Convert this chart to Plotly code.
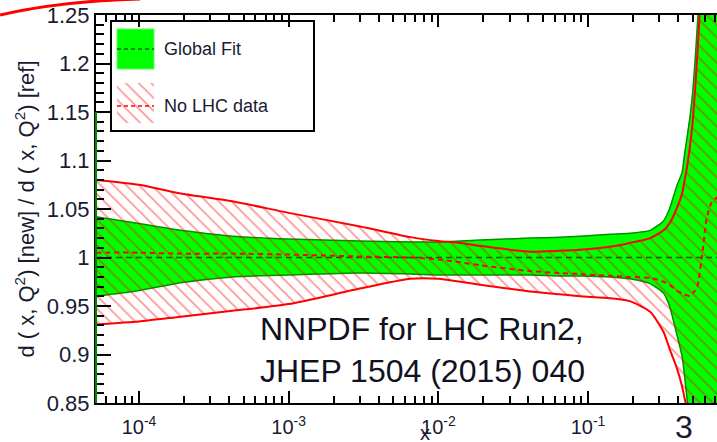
import math
import plotly.graph_objects as go

# ---------------- data ----------------
x_vals = [5.16e-5, 1.0e-4, 1.9e-4, 4.2e-4, 1.0e-3, 3.0e-3, 6.5e-3, 1.0e-2, 1.4e-2, 1.9e-2,
          4.1e-2, 6.5e-2, 8.8e-2, 0.14, 0.19, 0.26, 0.32, 0.35, 0.39, 0.425,
          0.44, 0.46, 0.48, 0.50, 0.52, 0.54, 0.58, 0.62, 0.67, 0.73]

global_hi = [1.042, 1.035, 1.028, 1.022, 1.019, 1.017, 1.016, 1.016, 1.017, 1.018,
             1.020, 1.021, 1.022, 1.024, 1.025, 1.028, 1.038, 1.050, 1.073, 1.088,
             1.105, 1.125, 1.145, 1.170, 1.205, 1.245, 1.330, 1.420, 1.500, 1.550]
global_lo = [0.960, 0.966, 0.974, 0.980, 0.982, 0.984, 0.983, 0.982, 0.982, 0.982,
             0.982, 0.981, 0.981, 0.980, 0.978, 0.973, 0.963, 0.950, 0.922, 0.898,
             0.880, 0.852, 0.820, 0.790, 0.760, 0.730, 0.670, 0.620, 0.570, 0.520]
global_mid = [1.0, 1.0, 1.0, 1.0, 1.0, 1.0, 1.0, 1.0, 1.0, 1.0,
              1.0, 1.0, 1.0, 1.0, 1.0, 1.0, 1.0, 1.0, 1.0, 1.0,
              1.0, 1.0, 1.0, 1.0, 1.0, 1.0, 1.0, 1.0, 1.0, 1.0]

nolhc_hi = [1.080, 1.075, 1.066, 1.058, 1.046, 1.032, 1.021, 1.017, 1.015, 1.012,
            1.006, 1.007, 1.008, 1.011, 1.015, 1.020, 1.028, 1.035, 1.050, 1.066,
            1.078, 1.095, 1.115, 1.140, 1.175, 1.215, 1.300, 1.400, 1.480, 1.550]
nolhc_lo = [0.931, 0.934, 0.939, 0.945, 0.952, 0.968, 0.978, 0.978, 0.975, 0.972,
            0.965, 0.962, 0.960, 0.958, 0.955, 0.944, 0.923, 0.906, 0.887, 0.867,
            0.856, 0.842, 0.820, 0.800, 0.770, 0.740, 0.680, 0.620, 0.570, 0.520]
nolhc_mid = [1.005, 1.005, 1.004, 1.004, 1.003, 1.001, 1.000, 0.998, 0.995, 0.992,
             0.986, 0.984, 0.983, 0.981, 0.980, 0.979, 0.975, 0.972, 0.966, 0.963,
             0.962, 0.961, 0.960, 0.963, 0.966, 0.972, 1.004, 1.040, 1.057, 1.062]

x_ticks = [1e-4, 1e-3, 1e-2, 1e-1]
x_ticktext = ["10<sup>-4</sup>", "10<sup>-3</sup>", "10<sup>-2</sup>", "10<sup>-1</sup>"]
y_ticks = [0.85, 0.9, 0.95, 1.0, 1.05, 1.1, 1.15, 1.2, 1.25]
y_ticktext = ["0.85", "0.9", "0.95", "1", "1.05", "1.1", "1.15", "1.2", "1.25"]
x_minor = [k * 10.0 ** n for n in range(-5, 0) for k in range(2, 10)]

legend_labels = ["Global Fit", "No LHC data"]
title_text = "NNPDF for LHC Run2,<br>JHEP 1504 (2015) 040"

# ---------------- styles ----------------
FONT = "Liberation Sans"
TXT = "#1a1a33"
GREEN = "#00ff00"
DKGREEN = "#009000"
RED = "#ff0000"
HATCH = dict(shape="\\", fgcolor="rgba(255,0,0,0.85)", bgcolor="rgba(0,0,0,0)",
             size=9, solidity=0.18)

fig = go.Figure()

# Global fit band
fig.add_trace(go.Scatter(x=x_vals + x_vals[::-1], y=global_hi + global_lo[::-1],
                         fill="toself", fillcolor=GREEN, line=dict(width=0),
                         mode="lines", hoverinfo="skip"))
fig.add_trace(go.Scatter(x=x_vals, y=global_hi, mode="lines",
                         line=dict(color=DKGREEN, width=1.5, shape="spline", smoothing=0.6)))
fig.add_trace(go.Scatter(x=x_vals, y=global_lo, mode="lines",
                         line=dict(color=DKGREEN, width=1.5, shape="spline", smoothing=0.6)))
fig.add_trace(go.Scatter(x=x_vals, y=global_mid, mode="lines",
                         line=dict(color="#006600", width=1.5, dash="6px,4px")))

# No-LHC band (hatched)
fig.add_trace(go.Scatter(x=x_vals + x_vals[::-1], y=nolhc_hi + nolhc_lo[::-1],
                         fill="toself", fillcolor="rgba(0,0,0,0)", fillpattern=HATCH,
                         line=dict(width=0), mode="lines", hoverinfo="skip"))
fig.add_trace(go.Scatter(x=x_vals, y=nolhc_hi, mode="lines",
                         line=dict(color=RED, width=2, shape="spline", smoothing=0.6)))
fig.add_trace(go.Scatter(x=x_vals, y=nolhc_lo, mode="lines",
                         line=dict(color=RED, width=2, shape="spline", smoothing=0.6)))
fig.add_trace(go.Scatter(x=x_vals, y=nolhc_mid, mode="lines",
                         line=dict(color=RED, width=2, dash="5px,4px", shape="spline", smoothing=0.6)))

# legend swatch (hatched) on an overlay pixel-like axis
fig.add_trace(go.Scatter(x=[117, 154, 154, 117, 117], y=[83, 83, 123, 123, 83],
                         xaxis="x2", yaxis="y2", fill="toself", fillcolor="rgba(0,0,0,0)",
                         fillpattern=HATCH, line=dict(width=0), mode="lines", hoverinfo="skip"))

shapes = [
    dict(type="rect", xref="x2", yref="y2", x0=111, x1=314, y0=21, y1=131,
         line=dict(color="black", width=2), fillcolor="rgba(0,0,0,0)"),
    dict(type="rect", xref="x2", yref="y2", x0=117, x1=154, y0=29, y1=69,
         line=dict(color="#60ff60", width=1), fillcolor=GREEN),
    dict(type="line", xref="x2", yref="y2", x0=117, x1=154, y0=49, y1=49,
         line=dict(color="#006600", width=1.5, dash="4px,3px")),
    dict(type="line", xref="x2", yref="y2", x0=117, x1=154, y0=106, y1=106,
         line=dict(color=RED, width=1.5, dash="4px,3px")),
    # green edge on left frame
    dict(type="line", xref="paper", yref="paper", x0=0, x1=0, y0=0, y1=0.75,
         line=dict(color="#008800", width=2)),
    # red stroke at top-left (slide decoration)
    dict(type="path", xref="paper", yref="paper",
         path="M -0.1546,1.0 Q -0.058,1.036 0.0709,1.0412",
         line=dict(color=RED, width=3)),
]

annotations = [
    dict(xref="x2", yref="y2", x=162, y=49, text=legend_labels[0], showarrow=False,
         xanchor="left", yanchor="middle", font=dict(family=FONT, size=18, color=TXT)),
    dict(xref="x2", yref="y2", x=162, y=106, text=legend_labels[1], showarrow=False,
         xanchor="left", yanchor="middle", font=dict(family=FONT, size=18, color=TXT)),
    dict(xref="paper", yref="paper", x=0.261, y=0.137, text=title_text, showarrow=False,
         xanchor="left", yanchor="middle", align="left",
         font=dict(family=FONT, size=32, color="#111122")),
    dict(xref="paper", yref="paper", x=0.53, y=-0.077, text="x", showarrow=False,
         xanchor="center", yanchor="middle", font=dict(family=FONT, size=20, color=TXT)),
    dict(xref="paper", yref="paper", x=0.947, y=-0.062, text="3", showarrow=False,
         xanchor="center", yanchor="middle", font=dict(family=FONT, size=32, color=TXT)),
]

fig.update_layout(
    width=717, height=442,
    margin=dict(l=96, r=0, t=15, b=39, pad=0, autoexpand=False),
    paper_bgcolor="white", plot_bgcolor="white",
    showlegend=False,
    shapes=shapes, annotations=annotations,
    xaxis=dict(type="log", range=[math.log10(5.16e-5), math.log10(0.727)], automargin=False,
               tickmode="array", tickvals=x_ticks, ticktext=x_ticktext,
               ticks="inside", ticklen=12, tickwidth=1.5, tickcolor="black",
               showline=True, linecolor="black", linewidth=2, mirror="ticks",
               showgrid=False, zeroline=False, ticklabeloverflow="allow",
               ticklabelstandoff=5,
               tickfont=dict(family=FONT, size=20, color=TXT),
               minor=dict(tickmode="array", tickvals=x_minor, ticks="inside", ticklen=7,
                          tickwidth=1.5, tickcolor="black", showgrid=False)),
    yaxis=dict(range=[0.85, 1.25], tickmode="array", tickvals=y_ticks, ticktext=y_ticktext,
               automargin=False, ticklabeloverflow="allow",
               ticks="inside", ticklen=15, tickwidth=1.5, tickcolor="black",
               showline=True, linecolor="black", linewidth=2, mirror=False,
               showgrid=False, zeroline=False,
               tickfont=dict(family=FONT, size=22, color=TXT),
               minor=dict(dtick=0.01, ticks="inside", ticklen=8, tickwidth=1.5,
                          tickcolor="black", showgrid=False),
               title=dict(text="d ( x, Q<sup>2</sup>) [new] / d ( x, Q<sup>2</sup>) [ref]",
                          font=dict(family=FONT, size=22, color=TXT), standoff=6)),
    xaxis2=dict(overlaying="x", range=[96, 717], visible=False, fixedrange=True),
    yaxis2=dict(overlaying="y", range=[403, 15], visible=False, fixedrange=True),
)

# remove the browser's default 8px body margin so the figure sits at the page origin
fig.write_html("out.html", config={"displayModeBar": False},
               post_script="document.body.style.margin='0px';")
